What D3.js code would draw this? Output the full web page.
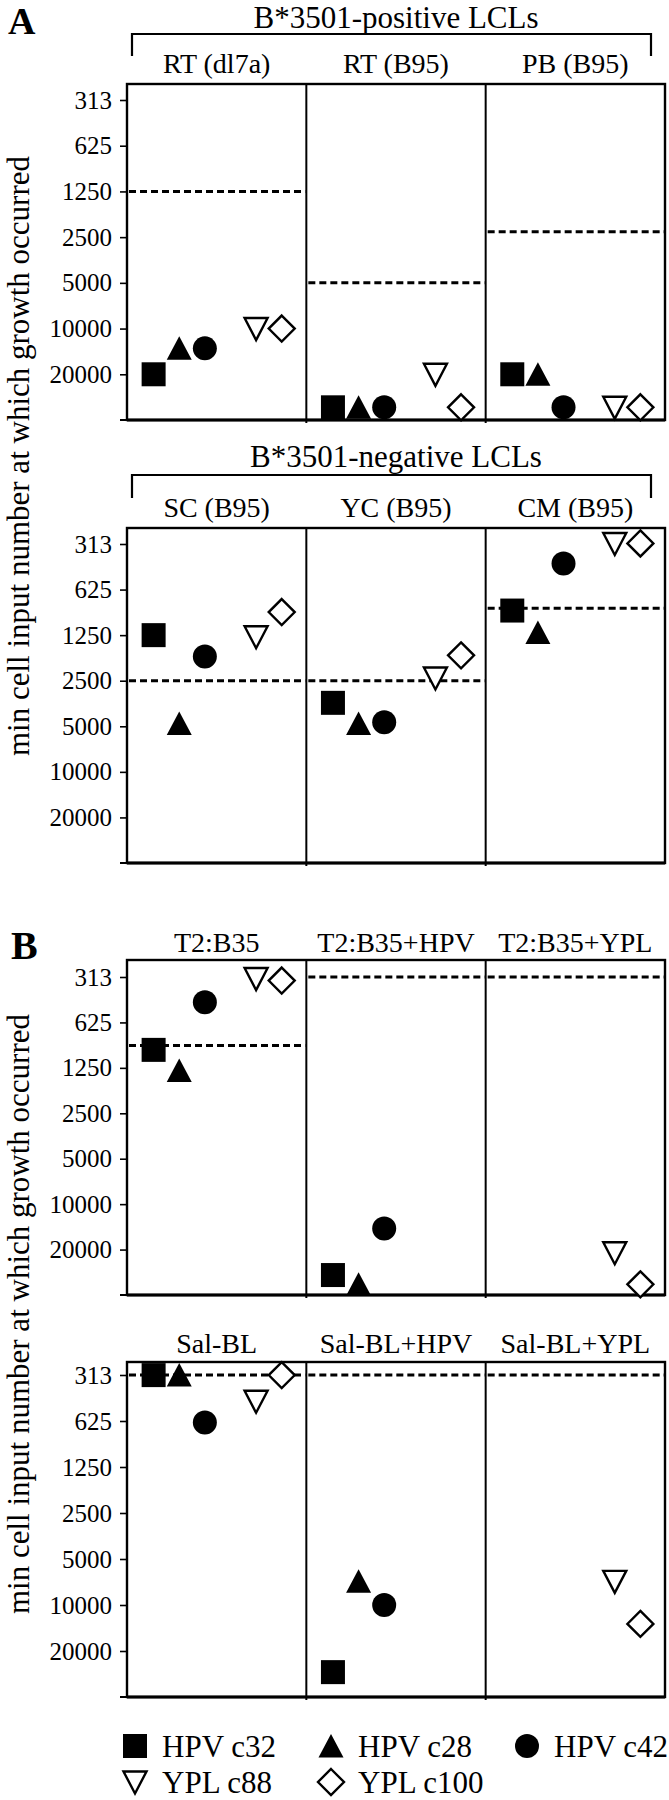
<!DOCTYPE html>
<html><head><meta charset="utf-8">
<script src="https://cdn.jsdelivr.net/npm/d3@7"></script>
<style>
body{margin:0;background:#fff}
text{font-family:"Liberation Serif","Times New Roman",Times,serif;fill:#000}
</style>
</head><body>
<svg id="chart" width="669" height="1800"></svg>
<script>
// ---------------- data ----------------
const seriesNames = ["HPV c32","HPV c28","HPV c42","YPL c88","YPL c100"];
const seriesShapes = ["square","triangle","circle","triangleDown","diamond"];
const seriesSlots = [0,1,2,4,5];
const tickValues = [312.5,625,1250,2500,5000,10000,20000];
const tickLabels = ["313","625","1250","2500","5000","10000","20000"];
const yAxisTitle = "min cell input number at which growth occurred";

const a1Title = "B*3501-positive LCLs";
const a1Cats = ["RT (dl7a)","RT (B95)","PB (B95)"];
const a1Values = [
  [20000,13500,13500,10000,10000],
  [33000,33000,33000,20000,33000],
  [20000,20000,33000,33000,33000]
];
const a1Threshold = [1250,5000,2300];

const a2Title = "B*3501-negative LCLs";
const a2Cats = ["SC (B95)","YC (B95)","CM (B95)"];
const a2Values = [
  [1250,4800,1730,1280,880],
  [3500,4800,4700,2400,1700],
  [860,1200,420,310,310]
];
const a2Threshold = [2500,2500,830];

const b1Cats = ["T2:B35","T2:B35+HPV","T2:B35+YPL"];
const b1Values = [
  [950,1300,460,320,330],
  [29500,34000,14500,null,null],
  [null,null,null,21000,34000]
];
const b1Threshold = [890,313,313];

const b2Cats = ["Sal-BL","Sal-BL+HPV","Sal-BL+YPL"];
const b2Values = [
  [313,313,640,464,313],
  [27500,7000,10000,null,null],
  [null,null,null,7000,13300]
];
const b2Threshold = [313,313,313];

// ---------------- layout ----------------
const svg = d3.select("#chart");
const L = 127, R = 665;

const panels = [
  {cats:a1Cats, values:a1Values, thr:a1Threshold, top:84, y313:100, bottom:420, labelY:73,
   group:{title:a1Title, titleY:28, bracketY:34, bracketBottom:56}},
  {cats:a2Cats, values:a2Values, thr:a2Threshold, top:528, y313:544, bottom:863, labelY:517,
   group:{title:a2Title, titleY:467, bracketY:475, bracketBottom:498}},
  {cats:b1Cats, values:b1Values, thr:b1Threshold, top:960, y313:977, bottom:1295, labelY:952},
  {cats:b2Cats, values:b2Values, thr:b2Threshold, top:1362, y313:1375, bottom:1697, labelY:1353}
];

function shapePath(shape){
  switch(shape){
    case "square": return "M-12,-12H12V12H-12Z";
    case "triangle": return "M0,-12L12.5,11.5L-12.5,11.5Z";
    case "triangleDown": return "M-11.5,-10.5L11.5,-10.5L0,11.5Z";
    case "diamond": return "M0,-13L13,0L0,13L-13,0Z";
  }
}
function drawMarker(g, shape, x, y){
  if(shape === "circle"){
    g.append("circle").attr("cx",x).attr("cy",y).attr("r",12).attr("fill","#000");
  } else {
    const open = (shape==="triangleDown"||shape==="diamond");
    g.append("path").attr("d",shapePath(shape))
      .attr("transform",`translate(${x},${y})`)
      .attr("fill", open ? "#fff" : "#000")
      .attr("stroke","#000").attr("stroke-width", open ? 2.4 : 0)
      .attr("stroke-linejoin","miter");
  }
}

panels.forEach(p => {
  const g = svg.append("g");
  const x = d3.scaleBand().domain(p.cats).range([L,R]);
  const bw = x.bandwidth();
  const slotX = d3.scaleLinear().domain([-1,6]).range([0,bw]);
  const y = d3.scaleLog().base(2).domain([40000,312.5]).range([p.bottom,p.y313]);

  // group title & bracket
  if(p.group){
    g.append("text").attr("x",(L+R)/2).attr("y",p.group.titleY)
      .attr("text-anchor","middle").attr("font-size",31).text(p.group.title);
    g.append("path")
      .attr("d",`M${L+5},${p.group.bracketBottom}V${p.group.bracketY}H${R-14}V${p.group.bracketBottom}`)
      .attr("fill","none").attr("stroke","#000").attr("stroke-width",2.2);
  }

  // category labels
  g.selectAll(".cat").data(p.cats).enter().append("text")
    .attr("x",d=>x(d)+bw/2).attr("y",p.labelY)
    .attr("text-anchor","middle").attr("font-size",28).text(d=>d);

  // axis
  const ax = g.append("g").attr("transform",`translate(${L},0)`)
    .call(d3.axisLeft(y).tickValues(tickValues).tickFormat((d,i)=>tickLabels[i])
      .tickSize(7).tickPadding(8));
  ax.select(".domain").remove();
  ax.selectAll("line").attr("stroke","#000").attr("stroke-width",1.6);
  ax.selectAll("text").attr("font-size",25).attr("font-family",'"Liberation Serif",serif').attr("fill","#000");

  // box and dividers
  g.append("rect").attr("x",L).attr("y",p.top).attr("width",R-L).attr("height",p.bottom-p.top)
    .attr("fill","none").attr("stroke","#000").attr("stroke-width",2.4);
  g.append("line").attr("x1",L-7).attr("x2",L).attr("y1",p.bottom).attr("y2",p.bottom)
    .attr("stroke","#000").attr("stroke-width",2);
  g.append("line").attr("x1",L).attr("x2",R).attr("y1",p.bottom).attr("y2",p.bottom)
    .attr("stroke","#000").attr("stroke-width",3);
  p.cats.slice(1).forEach(c=>{
    g.append("line").attr("x1",x(c)).attr("x2",x(c)).attr("y1",p.top).attr("y2",p.bottom+3)
      .attr("stroke","#000").attr("stroke-width",2);
  });

  // thresholds
  p.cats.forEach((c,i)=>{
    g.append("line").attr("x1",x(c)+2).attr("x2",x(c)+bw-1)
      .attr("y1",y(p.thr[i])).attr("y2",y(p.thr[i]))
      .attr("stroke","#000").attr("stroke-width",3).attr("stroke-dasharray","7,4");
  });

  // markers
  p.cats.forEach((c,i)=>{
    p.values[i].forEach((v,s)=>{
      if(v==null) return;
      drawMarker(g, seriesShapes[s], x(c)+slotX(seriesSlots[s])+1, y(v));
    });
  });
});

// panel letters
svg.append("text").attr("x",8).attr("y",34).attr("font-size",38).attr("font-weight","bold").text("A");
svg.append("text").attr("x",11).attr("y",959).attr("font-size",40).attr("font-weight","bold").text("B");

// y axis titles
[456,1314].forEach(cy=>{
  svg.append("text").attr("transform",`translate(29,${cy}) rotate(-90)`)
    .attr("text-anchor","middle").attr("font-size",31).text(yAxisTitle);
});

// legend
const legendX = [135,135+196,135+392];
const legendY = [1746,1782];
seriesNames.forEach((name,i)=>{
  const col = i<3 ? i : i-3, row = i<3 ? 0 : 1;
  drawMarker(svg, seriesShapes[i], legendX[col], legendY[row]);
  svg.append("text").attr("x",legendX[col]+27).attr("y",legendY[row]+11)
    .attr("font-size",31).text(name);
});
</script>
</body></html>
